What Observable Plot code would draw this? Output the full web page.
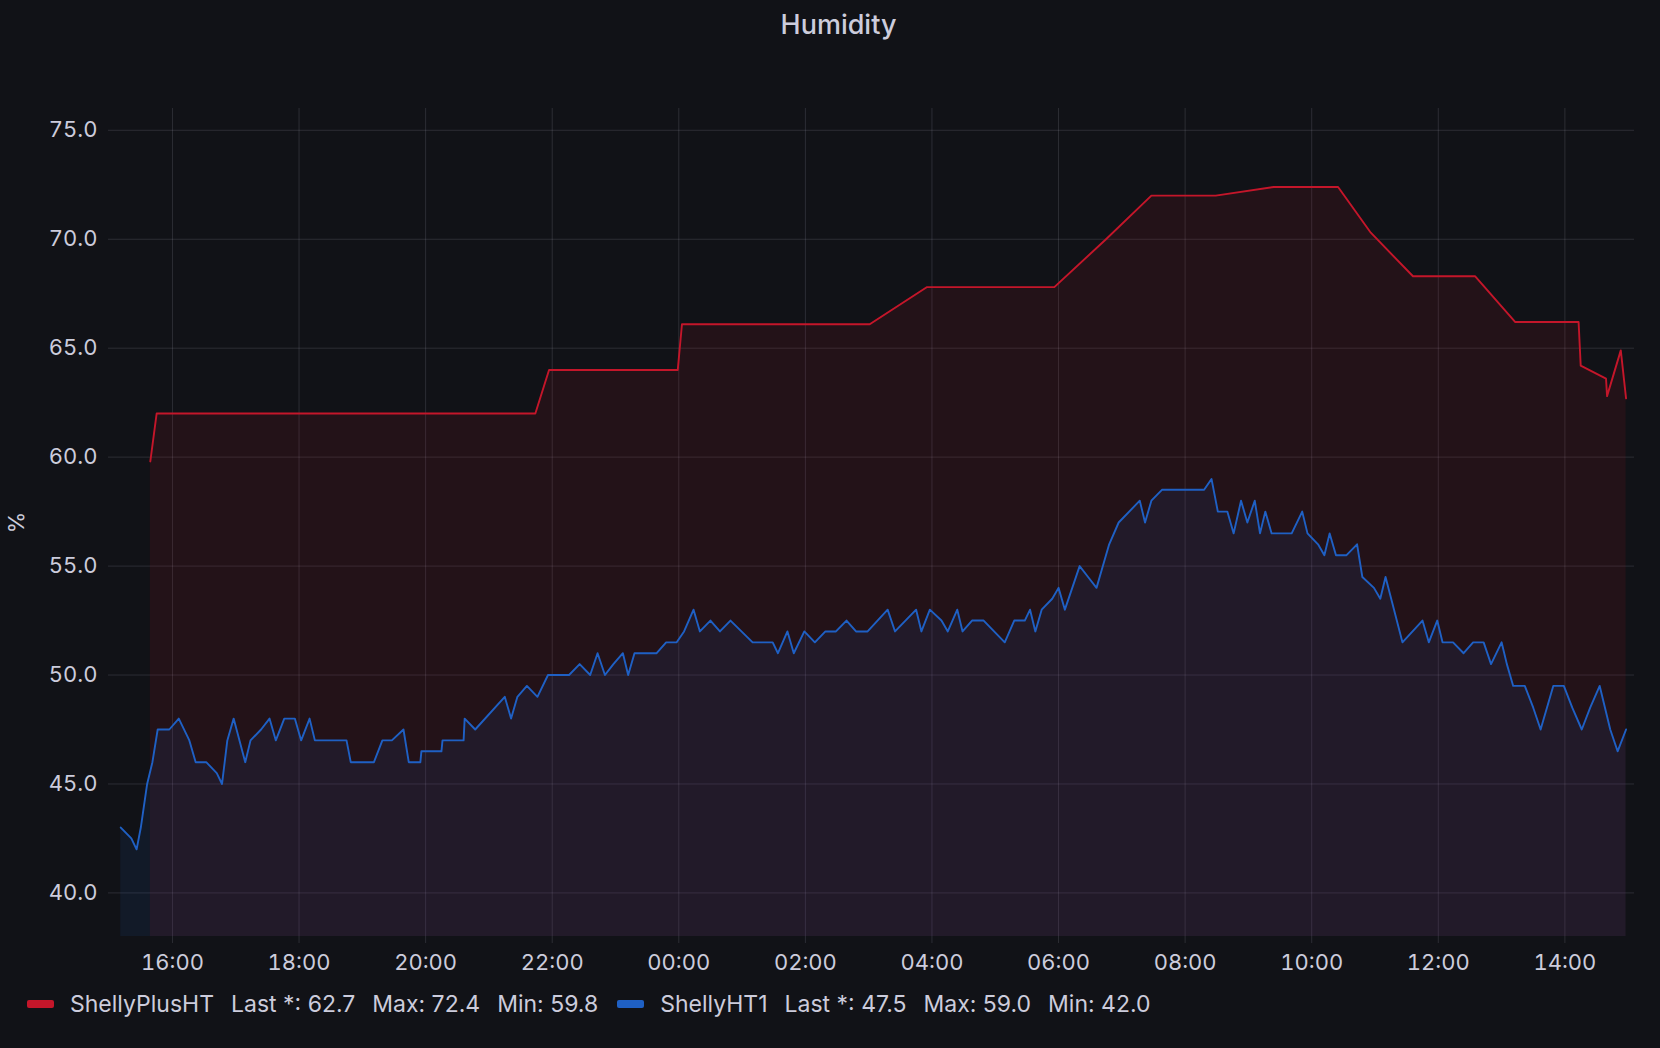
<!DOCTYPE html>
<html>
<head>
<meta charset="utf-8">
<script src="https://cdn.jsdelivr.net/npm/d3@7"></script>
<script src="https://cdn.jsdelivr.net/npm/@observablehq/plot@0.6"></script>
<style>
html, body { margin: 0; padding: 0; background: #111217; }
body { width: 1660px; height: 1048px; overflow: hidden; font-family: Inter, "Noto Sans", sans-serif; color: #ccccdc; }
#title { height: 50px; line-height: 50px; text-align: center; font-size: 27px; font-weight: 500; padding-left: 17px; box-sizing: border-box; }
#chart svg { display: block; }
#legend { height: 36px; display: flex; align-items: center; padding-left: 27px; font-size: 23px; white-space: pre; }
.sw { width: 27px; height: 8px; border-radius: 2px; margin-right: 16px; flex: none; }
.item { margin-right: 17px; }
.item.lastInSeries { margin-right: 19px; }
</style>
</head>
<body>
<div id="title">Humidity</div>
<div id="chart"></div>
<div id="legend"></div>
<script>
// ---- data ----
const seriesNames = ["ShellyPlusHT", "ShellyHT1"];
const seriesColors = ["#C4162A", "#1F60C4"];

const plusTimes = ["15:39","15:45","21:44","21:57","23:59","00:03","03:01","03:55","05:56","06:45","07:28","08:29","09:24","10:25","10:56","11:36","12:35","13:13","14:13","14:15","14:39","14:40","14:53","14:58"];
const plusValues = [59.8,62.0,62.0,64.0,64.0,66.1,66.1,67.8,67.8,70.0,72.0,72.0,72.4,72.4,70.3,68.3,68.3,66.2,66.2,64.2,63.6,62.8,64.9,62.7];

const ht1Times = ["15:11","15:21","15:26","15:30","15:36","15:41","15:46","15:57","16:06","16:16","16:22","16:32","16:42","16:47","16:52","16:58","17:09","17:14","17:24","17:32","17:38","17:46","17:56","18:02","18:10","18:15","18:45","18:49","19:11","19:19","19:28","19:39","19:44","19:55","19:56","20:15","20:16","20:36","20:37","20:47","21:15","21:21","21:27","21:36","21:46","21:56","22:16","22:26","22:36","22:43","22:50","22:58","23:07","23:12","23:18","23:39","23:48","23:58","00:05","00:14","00:20","00:30","00:39","00:49","01:10","01:29","01:34","01:43","01:49","01:59","02:09","02:19","02:29","02:39","02:48","02:59","03:18","03:25","03:45","03:50","03:58","04:09","04:15","04:24","04:29","04:38","04:49","05:09","05:18","05:28","05:33","05:38","05:44","05:54","06:00","06:06","06:20","06:28","06:36","06:42","06:48","06:57","07:17","07:22","07:28","07:38","08:18","08:25","08:31","08:40","08:46","08:53","08:59","09:06","09:11","09:16","09:22","09:41","09:51","09:56","10:06","10:12","10:17","10:23","10:33","10:43","10:48","10:59","11:05","11:10","11:26","11:45","11:51","11:59","12:04","12:14","12:24","12:33","12:43","12:50","13:00","13:05","13:11","13:22","13:30","13:37","13:49","13:59","14:07","14:16","14:24","14:33","14:43","14:50","14:58"];
const ht1Values = [43.0,42.5,42.0,43.0,45.0,46.0,47.5,47.5,48.0,47.0,46.0,46.0,45.5,45.0,47.0,48.0,46.0,47.0,47.5,48.0,47.0,48.0,48.0,47.0,48.0,47.0,47.0,46.0,46.0,47.0,47.0,47.5,46.0,46.0,46.5,46.5,47.0,47.0,48.0,47.5,49.0,48.0,49.0,49.5,49.0,50.0,50.0,50.5,50.0,51.0,50.0,50.5,51.0,50.0,51.0,51.0,51.5,51.5,52.0,53.0,52.0,52.5,52.0,52.5,51.5,51.5,51.0,52.0,51.0,52.0,51.5,52.0,52.0,52.5,52.0,52.0,53.0,52.0,53.0,52.0,53.0,52.5,52.0,53.0,52.0,52.5,52.5,51.5,52.5,52.5,53.0,52.0,53.0,53.5,54.0,53.0,55.0,54.5,54.0,55.0,56.0,57.0,58.0,57.0,58.0,58.5,58.5,59.0,57.5,57.5,56.5,58.0,57.0,58.0,56.5,57.5,56.5,56.5,57.5,56.5,56.0,55.5,56.5,55.5,55.5,56.0,54.5,54.0,53.5,54.5,51.5,52.5,51.5,52.5,51.5,51.5,51.0,51.5,51.5,50.5,51.5,50.5,49.5,49.5,48.5,47.5,49.5,49.5,48.5,47.5,48.5,49.5,47.5,46.5,47.5];

const rangeStart = "15:06";   // time range start (day 1)
const rangeEnd = "15:06";     // time range end (day 2)
const yTicks = [40, 45, 50, 55, 60, 65, 70, 75];
const yDomain = [38, 76];
const yLabel = "%";

// ---- build ----
const Y0 = 2024, M0 = 0, D0 = 1;
function hm(t) { const [h, m] = t.split(":").map(Number); return [h, m]; }
function build(name, times, values) {
  let day = 0, prev = -1;
  return times.map((t, i) => {
    const [h, m] = hm(t);
    const mins = h * 60 + m;
    if (mins < prev) day++;
    prev = mins;
    return {series: name, time: new Date(Date.UTC(Y0, M0, D0 + day, h, m)), value: values[i]};
  });
}
const plus = build(seriesNames[0], plusTimes, plusValues);
const ht1 = build(seriesNames[1], ht1Times, ht1Values);

const [sh, sm] = hm(rangeStart), [eh, em] = hm(rangeEnd);
const xDomain = [new Date(Date.UTC(Y0, M0, D0, sh, sm)), new Date(Date.UTC(Y0, M0, D0 + 1, eh, em))];
const xTicks = d3.utcHour.every(2).range(xDomain[0], xDomain[1]);

const gridStroke = "#ccccdc", gridOpacity = 0.15;

const chart = Plot.plot({
  width: 1660,
  height: 936,
  marginTop: 58,
  marginBottom: 50,
  marginLeft: 115,
  marginRight: 26,
  style: {background: "transparent", color: "#ccccdc", fontFamily: "Inter, sans-serif", fontSize: "22px"},
  x: {type: "utc", domain: xDomain},
  y: {domain: yDomain},
  marks: [
    Plot.gridX(xTicks, {stroke: gridStroke, strokeOpacity: gridOpacity, strokeWidth: 1}),
    Plot.gridY(yTicks, {stroke: gridStroke, strokeOpacity: gridOpacity, strokeWidth: 1}),
    Plot.areaY(plus, {x: "time", y: "value", fill: seriesColors[0], fillOpacity: 0.1, clip: true}),
    Plot.areaY(ht1, {x: "time", y: "value", fill: seriesColors[1], fillOpacity: 0.1, clip: true}),
    Plot.lineY(plus, {x: "time", y: "value", stroke: seriesColors[0], strokeWidth: 1.9}),
    Plot.lineY(ht1, {x: "time", y: "value", stroke: seriesColors[1], strokeWidth: 1.9}),
    Plot.axisX(xTicks, {tickFormat: d3.utcFormat("%H:%M"), tickSize: 7, tickPadding: 11, stroke: gridStroke, strokeOpacity: gridOpacity, fill: "#ccccdc", label: null}),
    Plot.axisY(yTicks, {tickFormat: d3.format(".1f"), tickSize: 7, tickPadding: 11, stroke: gridStroke, strokeOpacity: gridOpacity, fill: "#ccccdc", label: yLabel, labelAnchor: "center", labelOffset: 107, labelArrow: "none"})
  ]
});
document.getElementById("chart").append(chart);

// ---- legend ----
const legend = document.getElementById("legend");
[[plus, plusValues], [ht1, ht1Values]].forEach(([data, vals], i) => {
  const sw = document.createElement("span");
  sw.className = "sw";
  sw.style.background = seriesColors[i];
  legend.append(sw);
  const parts = [seriesNames[i], `Last *: ${vals[vals.length - 1].toFixed(1)}`, `Max: ${d3.max(vals).toFixed(1)}`, `Min: ${d3.min(vals).toFixed(1)}`];
  parts.forEach((p, j) => {
    const s = document.createElement("span");
    s.className = "item" + (j === parts.length - 1 ? " lastInSeries" : "");
    s.textContent = p;
    legend.append(s);
  });
});
</script>
</body>
</html>
